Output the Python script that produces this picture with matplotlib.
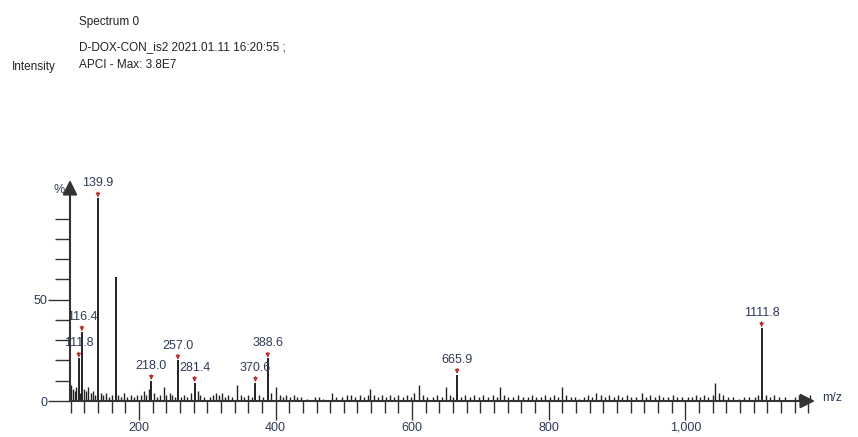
import numpy as np
import matplotlib.pyplot as plt

# labelled / main peaks (m/z, relative intensity %)
peak_mz = [111.8, 116.4, 139.9, 165.8, 218.0, 257.0, 281.4, 370.6, 388.6, 665.9, 1111.8]
peak_int = [21, 34, 100, 61, 10, 20, 9, 9, 21, 13, 36]
peak_labels = ["111.8", "116.4", "139.9", None, "218.0", "257.0", "281.4", "370.6", "388.6", "665.9", "1111.8"]

# small background peaks, read region by region
noise_mz_100 = [101, 103, 106, 108, 114, 120, 123, 126, 130, 133, 136, 144, 148, 152, 156, 160, 170, 174, 178, 183, 188, 193, 197]
noise_int_100 = [8, 6, 5, 7, 4, 6, 5, 7, 4, 5, 3, 4, 3, 4, 2, 3, 3, 2, 4, 2, 3, 2, 3]
noise_mz_200 = [203, 207, 211, 214, 222, 226, 231, 236, 240, 245, 249, 253, 262, 266, 271, 276, 286, 290, 295]
noise_int_200 = [3, 5, 3, 6, 4, 2, 3, 7, 3, 4, 3, 2, 2, 3, 2, 4, 5, 3, 2]
noise_mz_300 = [304, 309, 313, 317, 322, 326, 331, 336, 344, 349, 354, 360, 365, 376, 381, 394, 401]
noise_int_300 = [2, 3, 4, 3, 4, 2, 3, 2, 8, 3, 2, 3, 2, 3, 2, 4, 7]
noise_mz_400 = [406, 411, 416, 421, 427, 432, 438, 446, 458, 463, 470, 482, 489, 497, 505, 511, 517, 523, 529, 535,
                538, 544, 550, 556, 562, 568, 574, 580, 586, 592, 598]
noise_int_400 = [3, 2, 3, 2, 3, 2, 2, 1, 2, 2, 1, 4, 2, 2, 3, 3, 2, 3, 2, 3,
                 6, 3, 2, 3, 2, 3, 2, 3, 2, 3, 2]
noise_mz_600 = [603, 610, 616, 622, 630, 637, 644, 649, 655, 660, 672, 678, 685, 691, 698, 704, 711, 718, 724, 728,
                735, 741, 748, 755, 762, 769, 776, 782, 789, 795]
noise_int_600 = [4, 8, 3, 2, 2, 3, 2, 7, 3, 2, 2, 3, 2, 3, 2, 3, 2, 3, 2, 7,
                 3, 2, 2, 3, 2, 2, 3, 2, 2, 3]
noise_mz_800 = [802, 808, 814, 819, 826, 832, 839, 845, 852, 858, 864, 869, 876, 882, 889, 895, 902, 908, 915, 921,
                928, 936, 942, 948, 955, 962, 968, 975, 982, 988, 995]
noise_int_800 = [2, 3, 2, 7, 3, 2, 2, 1, 2, 3, 2, 4, 3, 2, 3, 2, 3, 2, 3, 2,
                 2, 4, 2, 3, 2, 3, 2, 2, 3, 2, 2]
noise_mz_1000 = [1004, 1010, 1016, 1022, 1028, 1034, 1040, 1044, 1050, 1056, 1063, 1070, 1078, 1086, 1094, 1102, 1106,
                 1118, 1124, 1130, 1138, 1146, 1160, 1166, 1176, 1183]
noise_int_1000 = [2, 2, 3, 2, 3, 2, 3, 9, 4, 3, 2, 2, 1, 2, 2, 2, 3,
                  3, 2, 3, 2, 2, 2, 3, 2, 3]

x_major = [200, 400, 600, 800, 1000]
x_major_labels = ["200", "400", "600", "800", "1,000"]
y_major = [0, 50]

plt.rcParams['font.family'] = ['Liberation Sans Narrow', 'Liberation Sans', 'DejaVu Sans']

W, H = 858, 437
fig = plt.figure(figsize=(W / 100, H / 100), dpi=100)
ax = fig.add_axes([70 / W, 36 / H, 745 / W, 221 / H])

noise_mz = noise_mz_100 + noise_mz_200 + noise_mz_300 + noise_mz_400 + noise_mz_600 + noise_mz_800 + noise_mz_1000
noise_int = noise_int_100 + noise_int_200 + noise_int_300 + noise_int_400 + noise_int_600 + noise_int_800 + noise_int_1000

ax.vlines(noise_mz, 0, noise_int, color="#222222", lw=1.0)
ax.vlines(peak_mz, 0, peak_int, color="#222222", lw=1.4)

# peak annotations with small red arrows
for mz, h, lab in zip(peak_mz, peak_int, peak_labels):
    if lab is None:
        continue
    ax.annotate(lab, xy=(mz, h + 0.3), xytext=(0, 6), textcoords="offset points",
                ha="center", va="bottom", fontsize=9, color="#2e3a55",
                arrowprops=dict(arrowstyle="-|>", color="#b83030", lw=0.8,
                                mutation_scale=6, shrinkA=0, shrinkB=0))

ax.set_xlim(99, 1190)
ax.set_ylim(0, 109)

for s in ax.spines.values():
    s.set_visible(False)

# axes with arrow heads
ax.annotate("", xy=(1.0, 0), xytext=(0, 0), xycoords="axes fraction",
            arrowprops=dict(arrowstyle="-|>", color="#333333", lw=1.5, mutation_scale=22, shrinkA=0, shrinkB=0))
ax.annotate("", xy=(0, 1.0), xytext=(0, 0), xycoords="axes fraction",
            arrowprops=dict(arrowstyle="-|>", color="#333333", lw=1.5, mutation_scale=22, shrinkA=0, shrinkB=0))

ax.set_xticks(x_major)
ax.set_xticklabels(x_major_labels)
ax.set_xticks(np.arange(100, 1181, 20), minor=True)
ax.set_yticks(y_major)
ax.set_yticks([10, 20, 30, 40, 60, 70, 80, 90], minor=True)
ax.tick_params(axis="x", which="major", direction="out", length=13.5, width=1.0, color="#333333",
               labelsize=9, pad=1.5, labelcolor="#2e3a55")
ax.tick_params(axis="x", which="minor", direction="out", length=8.5, width=1.0, color="#333333")
ax.tick_params(axis="y", which="major", direction="out", length=16, width=1.0, color="#333333",
               labelsize=9, pad=0.5, labelcolor="#2e3a55")
ax.tick_params(axis="y", which="minor", direction="out", length=11, width=1.0, color="#333333")

fig.text(65 / W, 1 - 190 / H, "%", ha="right", va="center", fontsize=9, color="#2e3a55")
fig.text(822 / W, 1 - 398 / H, "m/z", ha="left", va="center", fontsize=9, color="#2e3a55")

fig.text(79 / W, 1 - 25 / H, "Spectrum 0", ha="left", va="baseline", fontsize=8.5, color="#222222")
fig.text(79 / W, 1 - 50 / H, "D-DOX-CON_is2 2021.01.11 16:20:55 ;", ha="left", va="baseline", fontsize=8.5, color="#222222")
fig.text(79 / W, 1 - 68 / H, "APCI - Max: 3.8E7", ha="left", va="baseline", fontsize=8.5, color="#222222")
fig.text(12 / W, 1 - 70 / H, "Intensity", ha="left", va="baseline", fontsize=8.5, color="#222222")

fig.savefig("out.png", dpi=100)
